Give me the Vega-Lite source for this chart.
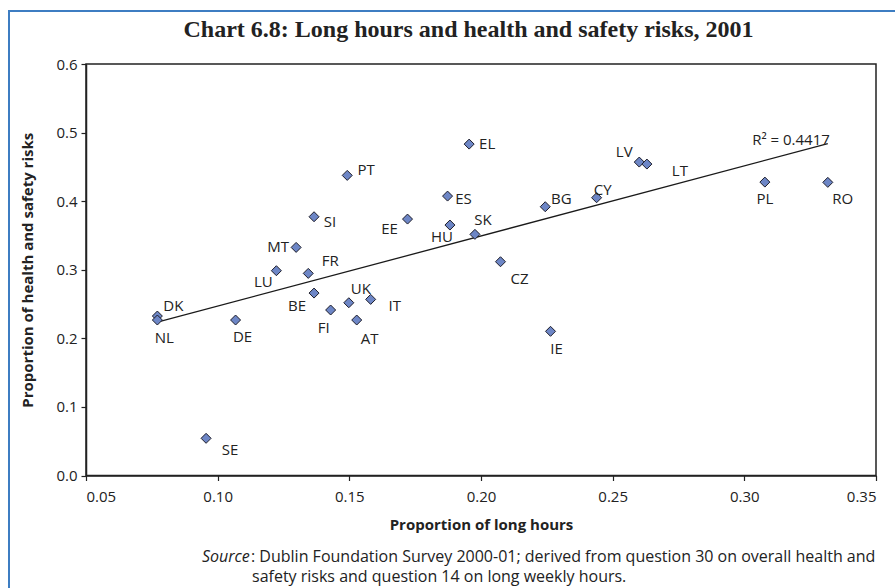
{
  "$schema": "https://vega.github.io/schema/vega-lite/v6.json",
  "autosize": {"type": "none"},
  "width": 790,
  "height": 411.5,
  "padding": {"left": 86, "top": 64, "right": 19, "bottom": 112.5},
  "background": "white",
  "config": {
    "view": {"stroke": "#222222", "strokeWidth": 1.5},
    "axis": {
      "grid": false,
      "domainColor": "#222222",
      "domainWidth": 1.5,
      "tickColor": "#222222",
      "tickWidth": 1.2,
      "tickSize": 5,
      "labelFont": "Open Sans",
      "labelFontSize": 15,
      "labelColor": "#222222",
      "titleFont": "Open Sans",
      "titleFontSize": 15,
      "titleFontWeight": "bold",
      "titleColor": "#222222"
    },
    "text": {"font": "Open Sans", "fontSize": 15, "color": "#222222"}
  },
  "data": {
    "values": [
      {"c": "DK", "x": 0.0771, "y": 0.2325},
      {"c": "NL", "x": 0.0771, "y": 0.2267},
      {"c": "SE", "x": 0.0956, "y": 0.0542},
      {"c": "DE", "x": 0.1068, "y": 0.2267},
      {"c": "LU", "x": 0.1223, "y": 0.2986},
      {"c": "MT", "x": 0.1298, "y": 0.3326},
      {"c": "FR", "x": 0.1344, "y": 0.2947},
      {"c": "SI", "x": 0.1366, "y": 0.3773},
      {"c": "BE", "x": 0.1366, "y": 0.266},
      {"c": "FI", "x": 0.1429, "y": 0.2413},
      {"c": "PT", "x": 0.1492, "y": 0.4376},
      {"c": "UK", "x": 0.1498, "y": 0.2519},
      {"c": "AT", "x": 0.1528, "y": 0.2267},
      {"c": "IT", "x": 0.1581, "y": 0.2568},
      {"c": "EE", "x": 0.1721, "y": 0.3739},
      {"c": "ES", "x": 0.1873, "y": 0.4074},
      {"c": "HU", "x": 0.1882, "y": 0.3652},
      {"c": "EL", "x": 0.1955, "y": 0.4832},
      {"c": "SK", "x": 0.1977, "y": 0.3516},
      {"c": "CZ", "x": 0.2074, "y": 0.3117},
      {"c": "BG", "x": 0.2244, "y": 0.3919},
      {"c": "IE", "x": 0.2264, "y": 0.2102},
      {"c": "CY", "x": 0.2439, "y": 0.405},
      {"c": "LV", "x": 0.2601, "y": 0.457},
      {"c": "LT", "x": 0.263, "y": 0.4541},
      {"c": "PL", "x": 0.3078, "y": 0.4278},
      {"c": "RO", "x": 0.3317, "y": 0.4274}
    ]
  },
  "encoding": {
    "x": {
      "field": "x", "type": "quantitative",
      "scale": {"domain": [0.05, 0.35], "nice": false, "zero": false},
      "axis": {
        "title": "Proportion of long hours",
        "values": [0.05, 0.1, 0.15, 0.2, 0.25, 0.3, 0.35],
        "format": ".2f",
        "labelPadding": 9,
        "titlePadding": 13
      }
    },
    "y": {
      "field": "y", "type": "quantitative",
      "scale": {"domain": [0, 0.6], "nice": false},
      "axis": {
        "title": "Proportion of health and safety risks",
        "values": [0, 0.1, 0.2, 0.3, 0.4, 0.5, 0.6],
        "format": ".1f",
        "labelPadding": 4,
        "titlePadding": 20
      }
    }
  },
  "layer": [
    {
      "data": {"values": [{"k": 1}]},
      "mark": {"type": "rect", "x": -77, "y": -53, "x2": 830, "y2": 540, "fill": null, "fillOpacity": 0, "stroke": "#3d7dc2", "strokeWidth": 2, "clip": false},
      "encoding": {"x": null, "y": null}
    },
    {
      "data": {"values": [{"t": "Chart 6.8: Long hours and health and safety risks, 2001"}]},
      "mark": {"type": "text", "align": "center", "baseline": "alphabetic", "font": "Liberation Serif", "fontSize": 24, "fontWeight": "bold", "x": 382.5, "y": -27, "clip": false},
      "encoding": {"x": null, "y": null, "text": {"field": "t"}}
    },
    {
      "transform": [{"regression": "y", "on": "x"}],
      "mark": {"type": "line", "color": "#1a1a1a", "strokeWidth": 1.3}
    },
    {
      "transform": [{"regression": "y", "on": "x"}, {"filter": "datum.x > 0.3"}],
      "mark": {"type": "text", "text": "R² = 0.4417", "align": "right", "baseline": "middle", "dy": -4, "dx": 2}
    },
    {
      "mark": {"type": "point", "shape": "diamond", "size": 100, "filled": true, "fill": "#6d86c6", "stroke": "#1e1e2a", "strokeWidth": 1, "opacity": 1}
    },
    {"transform": [{"filter": "datum.c == 'DK'"}], "mark": {"type": "text", "dx": 16, "dy": -10}, "encoding": {"text": {"field": "c"}}},
    {"transform": [{"filter": "datum.c == 'NL'"}], "mark": {"type": "text", "dx": 7, "dy": 18}, "encoding": {"text": {"field": "c"}}},
    {"transform": [{"filter": "datum.c == 'DE'"}], "mark": {"type": "text", "dx": 7, "dy": 17}, "encoding": {"text": {"field": "c"}}},
    {"transform": [{"filter": "datum.c == 'PT'"}], "mark": {"type": "text", "dx": 19, "dy": -5}, "encoding": {"text": {"field": "c"}}},
    {"transform": [{"filter": "datum.c == 'SI'"}], "mark": {"type": "text", "dx": 16, "dy": 5}, "encoding": {"text": {"field": "c"}}},
    {"transform": [{"filter": "datum.c == 'MT'"}], "mark": {"type": "text", "dx": -18, "dy": 0}, "encoding": {"text": {"field": "c"}}},
    {"transform": [{"filter": "datum.c == 'LU'"}], "mark": {"type": "text", "dx": -13, "dy": 11}, "encoding": {"text": {"field": "c"}}},
    {"transform": [{"filter": "datum.c == 'FR'"}], "mark": {"type": "text", "dx": 22, "dy": -12}, "encoding": {"text": {"field": "c"}}},
    {"transform": [{"filter": "datum.c == 'BE'"}], "mark": {"type": "text", "dx": -17, "dy": 13}, "encoding": {"text": {"field": "c"}}},
    {"transform": [{"filter": "datum.c == 'FI'"}], "mark": {"type": "text", "dx": -7, "dy": 18}, "encoding": {"text": {"field": "c"}}},
    {"transform": [{"filter": "datum.c == 'UK'"}], "mark": {"type": "text", "dx": 12, "dy": -14}, "encoding": {"text": {"field": "c"}}},
    {"transform": [{"filter": "datum.c == 'IT'"}], "mark": {"type": "text", "dx": 24, "dy": 7}, "encoding": {"text": {"field": "c"}}},
    {"transform": [{"filter": "datum.c == 'AT'"}], "mark": {"type": "text", "dx": 13, "dy": 19}, "encoding": {"text": {"field": "c"}}},
    {"transform": [{"filter": "datum.c == 'EE'"}], "mark": {"type": "text", "dx": -18, "dy": 10}, "encoding": {"text": {"field": "c"}}},
    {"transform": [{"filter": "datum.c == 'HU'"}], "mark": {"type": "text", "dx": -8, "dy": 12}, "encoding": {"text": {"field": "c"}}},
    {"transform": [{"filter": "datum.c == 'ES'"}], "mark": {"type": "text", "dx": 16, "dy": 3}, "encoding": {"text": {"field": "c"}}},
    {"transform": [{"filter": "datum.c == 'EL'"}], "mark": {"type": "text", "dx": 18, "dy": 0}, "encoding": {"text": {"field": "c"}}},
    {"transform": [{"filter": "datum.c == 'SK'"}], "mark": {"type": "text", "dx": 8, "dy": -14}, "encoding": {"text": {"field": "c"}}},
    {"transform": [{"filter": "datum.c == 'CZ'"}], "mark": {"type": "text", "dx": 19, "dy": 17}, "encoding": {"text": {"field": "c"}}},
    {"transform": [{"filter": "datum.c == 'BG'"}], "mark": {"type": "text", "dx": 16, "dy": -8}, "encoding": {"text": {"field": "c"}}},
    {"transform": [{"filter": "datum.c == 'CY'"}], "mark": {"type": "text", "dx": 6, "dy": -8}, "encoding": {"text": {"field": "c"}}},
    {"transform": [{"filter": "datum.c == 'LV'"}], "mark": {"type": "text", "dx": -15, "dy": -10}, "encoding": {"text": {"field": "c"}}},
    {"transform": [{"filter": "datum.c == 'LT'"}], "mark": {"type": "text", "dx": 33, "dy": 7}, "encoding": {"text": {"field": "c"}}},
    {"transform": [{"filter": "datum.c == 'PL'"}], "mark": {"type": "text", "dx": 0, "dy": 17}, "encoding": {"text": {"field": "c"}}},
    {"transform": [{"filter": "datum.c == 'RO'"}], "mark": {"type": "text", "dx": 15, "dy": 17}, "encoding": {"text": {"field": "c"}}},
    {"transform": [{"filter": "datum.c == 'IE'"}], "mark": {"type": "text", "dx": 6, "dy": 18}, "encoding": {"text": {"field": "c"}}},
    {"transform": [{"filter": "datum.c == 'SE'"}], "mark": {"type": "text", "dx": 24, "dy": 12}, "encoding": {"text": {"field": "c"}}},
    {
      "data": {"values": [{"t": "Source"}]},
      "mark": {"type": "text", "align": "left", "baseline": "middle", "fontStyle": "italic", "fontSize": 16, "x": 116, "y": 492.5, "clip": false},
      "encoding": {"x": null, "y": null, "text": {"field": "t"}}
    },
    {
      "data": {"values": [{"t": ": Dublin Foundation Survey 2000-01; derived from question 30 on overall health and"}]},
      "mark": {"type": "text", "align": "left", "baseline": "middle", "fontSize": 16, "x": 165, "y": 492.5, "clip": false},
      "encoding": {"x": null, "y": null, "text": {"field": "t"}}
    },
    {
      "data": {"values": [{"t": "safety risks and question 14 on long weekly hours."}]},
      "mark": {"type": "text", "align": "left", "baseline": "middle", "fontSize": 16, "x": 166, "y": 512.5, "clip": false},
      "encoding": {"x": null, "y": null, "text": {"field": "t"}}
    }
  ]
}
